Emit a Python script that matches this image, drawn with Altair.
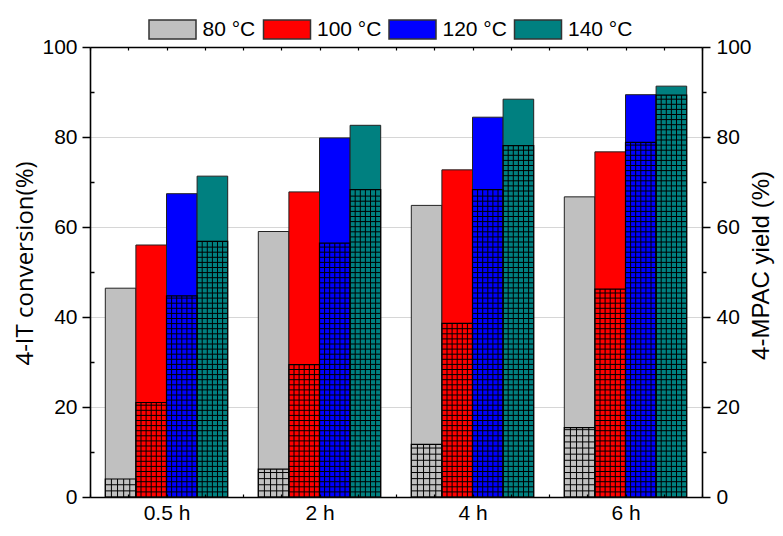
import json
import altair as alt
import pandas as pd

# ---- data ----
times = ["0.5 h", "2 h", "4 h", "6 h"]
temps = ["80 °C", "100 °C", "120 °C", "140 °C"]
colors = ["#C0C0C0", "#FF0000", "#0000FF", "#008080"]

conv_80 = [46.4, 59.0, 64.8, 66.7]
conv_100 = [56.0, 67.8, 72.7, 76.7]
conv_120 = [67.4, 79.8, 84.4, 89.4]
conv_140 = [71.3, 82.6, 88.4, 91.3]

yield_80 = [4.0, 6.2, 11.7, 15.4]
yield_100 = [21.0, 29.4, 38.6, 46.2]
yield_120 = [44.7, 56.4, 68.3, 78.8]
yield_140 = [56.8, 68.3, 78.1, 89.3]

y_major = [0, 20, 40, 60, 80, 100]
y_minor = [10, 30, 50, 70, 90]

conversion = [conv_80, conv_100, conv_120, conv_140]
yields = [yield_80, yield_100, yield_120, yield_140]

# ---- layout ----
W, H = 612, 450
GROUP = 0.8
BAR = GROUP / len(temps)
hatch_cols = [5, 6, 6, 6]
px_x = W / len(times)
px_y = H / 100.0

rows, vlines, hlines = [], [], []
for ti, t in enumerate(times):
    for tj, temp in enumerate(temps):
        x0 = ti + (1 - GROUP) / 2 + BAR * tj
        x1 = x0 + BAR
        c = conversion[tj][ti]
        yv = yields[tj][ti]
        rows.append(dict(time=t, temp=temp, x0=x0, x1=x1, conv=c, yld=yv, base=0.0))
        n = hatch_cols[tj]
        for k in range(1, n):
            vlines.append(dict(hx=x0 + BAR * k / n, y0=0.0, y1=yv))
        step = BAR / n * px_x / px_y
        k = 1
        while k * step < yv - 0.3:
            hlines.append(dict(hx0=x0, hx1=x1, hy=k * step))
            k += 1

df = pd.DataFrame(rows)
dv = pd.DataFrame(vlines)
dh = pd.DataFrame(hlines)

xs = alt.Scale(domain=[0, len(times)], nice=False, zero=False)
ys = alt.Scale(domain=[0, 100], nice=False)
quarters = [i * 0.25 for i in range(4 * len(times) + 1)]
centers = [i + 0.5 for i in range(len(times))]
label_expr = json.dumps(times) + "[floor(datum.value)]"

sym_path = "M-1,-0.404H1V0.404H-1Z"

bars = alt.Chart(df).mark_bar(stroke="#222222", strokeWidth=1).encode(
    x=alt.X("x0:Q", scale=xs, axis=alt.Axis(
        orient="bottom", values=centers, labelExpr=label_expr, ticks=False,
        domain=True, domainColor="black", domainWidth=1.6, grid=False,
        labelFontSize=21, labelPadding=5, labelColor="black", title=None)),
    x2="x1:Q",
    y=alt.Y("conv:Q", scale=ys, axis=alt.Axis(
        orient="left", values=y_major, tickSize=8, tickColor="black", tickWidth=1.5,
        domainColor="black", domainWidth=1.6, grid=True, gridColor="#d6d6d6",
        gridWidth=1, labelFontSize=21, labelPadding=5, labelColor="black",
        title="4-IT conversion(%)", titleFont="Open Sans", titleFontSize=24,
        titleFontWeight="normal", titleColor="black", titlePadding=4, titleY=216)),
    y2="base:Q",
    color=alt.Color("temp:N", scale=alt.Scale(domain=temps, range=colors),
                    legend=alt.Legend(
                        orient="none", legendX=58, legendY=-42, direction="horizontal",
                        title=None, symbolType=sym_path, symbolSize=2209,
                        symbolStrokeColor="#333333", symbolStrokeWidth=1.5,
                        symbolOpacity=1, labelFontSize=21, labelOffset=5.5,
                        labelColor="black", columnPadding=4.5)),
)

vl = alt.Chart(dv).mark_rule(color="black", strokeWidth=1).encode(
    x=alt.X("hx:Q", scale=xs, axis=alt.Axis(
        orient="bottom", offset=-H, values=quarters, tickSize=3, tickColor="black",
        tickWidth=1.2, labels=False, domain=True, domainColor="black",
        domainWidth=1.6, grid=False, title=None, zindex=1)),
    y=alt.Y("y0:Q", scale=ys, axis=alt.Axis(
        orient="right", values=y_major, tickSize=8, tickColor="black", tickWidth=1.5,
        domainColor="black", domainWidth=1.6, grid=False, labelFontSize=21,
        labelPadding=6, labelColor="black", title="4-MPAC yield (%)",
        titleFontSize=24, titleFontWeight="normal", titleColor="black",
        titleAngle=270, titleBaseline="top", titleX=47, titleY=218, zindex=1)),
    y2="y1:Q",
)

hl = alt.Chart(dh).mark_rule(color="black", strokeWidth=1).encode(
    x=alt.X("hx0:Q", scale=xs, axis=alt.Axis(
        orient="top", offset=-H, values=quarters, tickSize=3, tickColor="black",
        tickWidth=1.2, labels=False, domain=False, grid=False, title=None, zindex=1)),
    x2="hx1:Q",
    y=alt.Y("hy:Q", scale=ys, axis=alt.Axis(
        orient="right", values=y_minor, tickSize=4, tickColor="black", tickWidth=1.5,
        labels=False, domain=False, grid=False, title=None, zindex=1)),
)

outline = alt.Chart(df).mark_bar(fillOpacity=0, stroke="black", strokeWidth=1.2).encode(
    x=alt.X("x0:Q", scale=xs, axis=None),
    x2="x1:Q",
    y=alt.Y("yld:Q", scale=ys, axis=alt.Axis(
        orient="right", offset=-W, values=y_minor, tickSize=4, tickColor="black",
        tickWidth=1.5, labels=False, domain=False, grid=False, title=None, zindex=1)),
    y2="base:Q",
)

chart = alt.layer(bars, vl, hl, outline).resolve_scale(
    x="shared", y="shared"
).resolve_axis(
    x="independent", y="independent"
).properties(
    width=W, height=H,
    padding={"left": 82, "top": 39, "right": 73, "bottom": 25},
    autosize=alt.AutoSizeParams(type="none"),
).configure(
    font="Liberation Sans",
).configure_view(stroke=None)

chart.save("out.html", embed_options={"renderer": "svg", "actions": False})
